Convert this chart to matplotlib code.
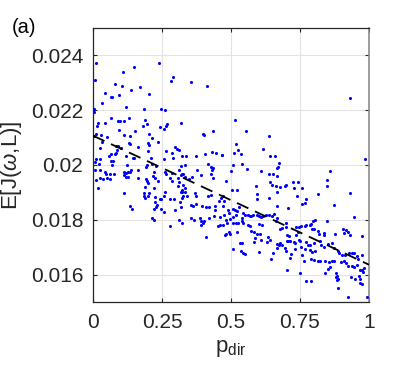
import matplotlib
matplotlib.use("Agg")
import matplotlib.pyplot as plt

plt.rcParams['font.family'] = ['Liberation Sans', 'DejaVu Sans']
plt.rcParams['mathtext.fontset'] = 'custom'
plt.rcParams['mathtext.rm'] = 'Liberation Sans'
plt.rcParams['mathtext.it'] = 'Liberation Sans:italic'

# ---- data ----
p_dir = [
    0.010, 0.149, 0.239, 0.007, 0.110, 0.289, 0.282, 0.081, 0.105, 0.169,
    0.138, 0.045, 0.095, 0.203, 0.065, 0.070, 0.033, 0.121, 0.005, 0.005,
    0.185, 0.246, 0.262, 0.064, 0.132, 0.089, 0.097, 0.111, 0.017, 0.045,
    0.188, 0.195, 0.181, 0.320, 0.269, 0.264, 0.243, 0.256, 0.013, 0.093,
    0.152, 0.012, 0.028, 0.052, 0.113, 0.134, 0.202, 0.214, 0.004, 0.033,
    0.130, 0.135, 0.200, 0.203, 0.234, 0.025, 0.083, 0.089, 0.103, 0.163,
    0.087, 0.199, 0.266, 0.285, 0.297, 0.304, 0.313, 0.066, 0.079, 0.082,
    0.057, 0.120, 0.012, 0.025, 0.144, 0.149, 0.209, 0.257, 0.289, 0.321,
    0.355, 0.413, 0.516, 0.397, 0.403, 0.436, 0.555, 0.638, 0.518, 0.524,
    0.616, 0.407, 0.430, 0.446, 0.466, 0.511, 0.537, 0.930, 0.986,
    0.065, 0.072, 0.007, 0.022, 0.068, 0.124, 0.196, 0.193, 0.213, 0.229,
    0.007, 0.026, 0.042, 0.048, 0.061, 0.077, 0.111, 0.120, 0.127, 0.138,
    0.135, 0.163, 0.113, 0.121, 0.128, 0.220, 0.261, 0.266, 0.217, 0.224,
    0.287, 0.312, 0.322, 0.024, 0.035, 0.051, 0.061, 0.010, 0.163, 0.191,
    0.196, 0.198, 0.234, 0.280, 0.287, 0.308, 0.312, 0.017, 0.188, 0.220,
    0.309, 0.326, 0.324, 0.113, 0.184, 0.186, 0.189, 0.198, 0.203, 0.226,
    0.244, 0.246, 0.261, 0.256, 0.280, 0.295, 0.319, 0.321, 0.226, 0.232,
    0.227, 0.220, 0.133, 0.140, 0.246, 0.256, 0.297, 0.316, 0.319, 0.215,
    0.220, 0.312, 0.321, 0.278,
    0.337, 0.332, 0.319, 0.373, 0.417, 0.429, 0.432, 0.436, 0.467, 0.508,
    0.501, 0.540, 0.557, 0.610, 0.637, 0.653, 0.668, 0.673, 0.668, 0.641,
    0.661, 0.378, 0.392, 0.429, 0.434, 0.318, 0.327, 0.332, 0.359, 0.349,
    0.483, 0.591, 0.593, 0.595, 0.641, 0.649, 0.663, 0.666, 0.637, 0.504,
    0.521, 0.334, 0.322, 0.327, 0.339, 0.334, 0.371, 0.373, 0.373, 0.417,
    0.426, 0.465, 0.472, 0.458, 0.475, 0.354, 0.363, 0.395, 0.409, 0.419,
    0.443, 0.441, 0.470, 0.489, 0.492, 0.508, 0.516, 0.518, 0.523, 0.530,
    0.542, 0.540, 0.550, 0.562, 0.569, 0.574, 0.581, 0.595, 0.603, 0.610,
    0.617, 0.627, 0.639, 0.649, 0.656, 0.668, 0.356, 0.366, 0.388, 0.421,
    0.392, 0.397, 0.402, 0.392, 0.438, 0.460, 0.475, 0.482, 0.487, 0.496,
    0.506, 0.453, 0.460, 0.470, 0.508, 0.518, 0.525, 0.540, 0.542, 0.562,
    0.569, 0.600, 0.612, 0.409, 0.482, 0.494, 0.496, 0.479, 0.523, 0.571,
    0.583, 0.593, 0.588, 0.583, 0.610, 0.605, 0.634, 0.632, 0.641, 0.666,
    0.673, 0.508, 0.533, 0.540, 0.535, 0.545, 0.552, 0.603, 0.666, 0.653,
    0.644,
    0.671, 0.860, 0.848, 0.848, 0.725, 0.742, 0.700, 0.696, 0.676, 0.729,
    0.756, 0.814, 0.932, 0.739, 0.773, 0.768, 0.756, 0.667, 0.708, 0.874,
    0.945, 0.662, 0.700, 0.848, 0.804, 0.797, 0.790, 0.773, 0.785, 0.768,
    0.746, 0.754, 0.737, 0.676, 0.686, 0.698, 0.906, 0.916, 0.911, 0.923,
    0.792, 0.800, 0.814, 0.819, 0.836, 0.838, 0.877, 0.932, 0.976, 0.703,
    0.710, 0.737, 0.744, 0.679, 0.684, 0.703, 0.708, 0.715, 0.727, 0.732,
    0.746, 0.751, 0.771, 0.778, 0.787, 0.802, 0.821, 0.826, 0.838, 0.850,
    0.865, 0.874, 0.887, 0.891, 0.901, 0.913, 0.928, 0.937, 0.947, 0.957,
    0.959, 0.976, 0.696, 0.700, 0.717, 0.715, 0.732, 0.754, 0.756, 0.768,
    0.785, 0.792, 0.804, 0.763, 0.790, 0.800, 0.816, 0.824, 0.841, 0.855,
    0.867, 0.874, 0.899, 0.908, 0.918, 0.925, 0.937, 0.945, 0.957, 0.966,
    0.976, 0.978, 0.983, 0.703, 0.751, 0.841, 0.860, 0.853, 0.882, 0.884,
    0.879, 0.889, 0.884, 0.935, 0.950, 0.964, 0.968, 0.966, 0.974, 0.773,
    0.790, 0.889, 0.923, 0.993,
]

E_J = [
    0.02373, 0.02357, 0.02373, 0.02309, 0.02339, 0.02320, 0.02307, 0.02296, 0.02287, 0.02283,
    0.02272, 0.02262, 0.02257, 0.02259, 0.02247, 0.02247, 0.02225, 0.02212, 0.02206, 0.02192,
    0.02203, 0.02205, 0.02200, 0.02170, 0.02170, 0.02160, 0.02159, 0.02160, 0.02155, 0.02155,
    0.02163, 0.02148, 0.02144, 0.02152, 0.02148, 0.02142, 0.02138, 0.02133, 0.02141, 0.02128,
    0.02123, 0.02114, 0.02108, 0.02101, 0.02109, 0.02107, 0.02114, 0.02099, 0.02105, 0.02083,
    0.02081, 0.02076, 0.02079, 0.02073, 0.02084, 0.02062, 0.02069, 0.02069, 0.02063, 0.02064,
    0.02055, 0.02050, 0.02051, 0.02044, 0.02064, 0.02058, 0.02053, 0.02041, 0.02041, 0.02044,
    0.02032, 0.02033, 0.02022, 0.02022, 0.02024, 0.02027, 0.02027, 0.02022, 0.02024, 0.02032,
    0.02303, 0.02288, 0.02164, 0.02113, 0.02108, 0.02123, 0.02125, 0.02107, 0.02075, 0.02056,
    0.02058, 0.02040, 0.02046, 0.02043, 0.02037, 0.02045, 0.02041, 0.02245, 0.02022,
    0.02015, 0.02015, 0.02010, 0.02003, 0.02000, 0.02000, 0.02000, 0.01993, 0.02003, 0.01995,
    0.01982, 0.01983, 0.01976, 0.01967, 0.01967, 0.01966, 0.01976, 0.01972, 0.01973, 0.01983,
    0.01973, 0.01983, 0.01964, 0.01956, 0.01956, 0.01976, 0.01976, 0.01968, 0.01961, 0.01952,
    0.01970, 0.01983, 0.01968, 0.01952, 0.01949, 0.01952, 0.01949, 0.01944, 0.01952, 0.01949,
    0.01942, 0.01935, 0.01942, 0.01954, 0.01942, 0.01952, 0.01939, 0.01917, 0.01920, 0.01916,
    0.01925, 0.01927, 0.01910, 0.01898, 0.01898, 0.01888, 0.01881, 0.01888, 0.01896, 0.01883,
    0.01876, 0.01876, 0.01901, 0.01888, 0.01876, 0.01876, 0.01901, 0.01879, 0.01864, 0.01855,
    0.01845, 0.01840, 0.01851, 0.01841, 0.01840, 0.01828, 0.01837, 0.01864, 0.01845, 0.01806,
    0.01801, 0.01799, 0.01787, 0.01779,
    0.02034, 0.02000, 0.01996, 0.02032, 0.02003, 0.01993, 0.01983, 0.01988, 0.02036, 0.02000,
    0.01978, 0.02003, 0.01985, 0.01978, 0.01968, 0.01968, 0.01988, 0.02007, 0.01959, 0.02034,
    0.02032, 0.01981, 0.01964, 0.01968, 0.01954, 0.01964, 0.01968, 0.01956, 0.01956, 0.01948,
    0.01943, 0.01923, 0.01893, 0.01876, 0.01939, 0.01927, 0.01925, 0.01901, 0.01881, 0.01908,
    0.01908, 0.01915, 0.01903, 0.01888, 0.01888, 0.01901, 0.01898, 0.01886, 0.01859, 0.01888,
    0.01891, 0.01881, 0.01888, 0.01869, 0.01867, 0.01855, 0.01850, 0.01850, 0.01847, 0.01847,
    0.01852, 0.01835, 0.01850, 0.01835, 0.01823, 0.01840, 0.01835, 0.01818, 0.01833, 0.01845,
    0.01823, 0.01806, 0.01816, 0.01818, 0.01813, 0.01813, 0.01816, 0.01818, 0.01813, 0.01811,
    0.01813, 0.01818, 0.01816, 0.01813, 0.01821, 0.01806, 0.01806, 0.01799, 0.01808, 0.01806,
    0.01794, 0.01789, 0.01794, 0.01782, 0.01813, 0.01811, 0.01816, 0.01799, 0.01789, 0.01804,
    0.01811, 0.01779, 0.01782, 0.01782, 0.01789, 0.01789, 0.01787, 0.01794, 0.01787, 0.01782,
    0.01779, 0.01784, 0.01782, 0.01738, 0.01748, 0.01755, 0.01748, 0.01745, 0.01755, 0.01760,
    0.01755, 0.01748, 0.01733, 0.01719, 0.01728, 0.01748, 0.01738, 0.01719, 0.01726, 0.01712,
    0.01709, 0.01692, 0.01714, 0.01714, 0.01685, 0.01677, 0.01675, 0.01683, 0.01697, 0.01677,
    0.01658,
    0.01993, 0.01978, 0.01944, 0.01923, 0.01939, 0.01939, 0.01927, 0.01923, 0.01920, 0.01915,
    0.01917, 0.01893, 0.01898, 0.01888, 0.01876, 0.01862, 0.01857, 0.01850, 0.01843, 0.01855,
    0.01811, 0.01794, 0.01789, 0.01794, 0.01801, 0.01794, 0.01784, 0.01782, 0.01782, 0.01779,
    0.01775, 0.01779, 0.01772, 0.01765, 0.01770, 0.01772, 0.01765, 0.01763, 0.01750, 0.01755,
    0.01765, 0.01767, 0.01760, 0.01748, 0.01753, 0.01743, 0.01748, 0.01745, 0.01741, 0.01745,
    0.01741, 0.01745, 0.01755, 0.01714, 0.01707, 0.01721, 0.01724, 0.01724, 0.01719, 0.01716,
    0.01728, 0.01721, 0.01719, 0.01709, 0.01709, 0.01716, 0.01721, 0.01709, 0.01702, 0.01712,
    0.01714, 0.01697, 0.01685, 0.01677, 0.01673, 0.01673, 0.01677, 0.01677, 0.01680, 0.01668,
    0.01658, 0.01673, 0.01697, 0.01685, 0.01675, 0.01661, 0.01692, 0.01702, 0.01673, 0.01695,
    0.01690, 0.01683, 0.01685, 0.01648, 0.01656, 0.01653, 0.01648, 0.01651, 0.01648, 0.01646,
    0.01651, 0.01648, 0.01646, 0.01651, 0.01641, 0.01632, 0.01632, 0.01627, 0.01634, 0.01617,
    0.01617, 0.01610, 0.01624, 0.01615, 0.01607, 0.01607, 0.01629, 0.01622, 0.01605, 0.01595,
    0.01590, 0.01585, 0.01581, 0.01590, 0.01585, 0.01595, 0.01583, 0.01571, 0.01564, 0.01576,
    0.01576, 0.01552, 0.01517, 0.01520,
]

fit_x = [0.0, 1.0]
fit_y = [0.02107, 0.01636]

x_ticks = [0, 0.25, 0.5, 0.75, 1]
x_ticklabels = ['0', '0.25', '0.5', '0.75', '1']
y_ticks = [0.016, 0.018, 0.020, 0.022, 0.024]
y_ticklabels = ['0.016', '0.018', '0.02', '0.022', '0.024']

# ---- figure ----
fig = plt.figure(figsize=(4.07, 3.78), dpi=100)
ax = fig.add_axes([0.2285, 0.2011, 0.6781, 0.7249])

ax.scatter(p_dir, E_J, s=5, color='#0000ff', linewidths=0, zorder=3)
ax.plot(fit_x, fit_y, color='black', lw=1.3, dashes=(7, 4), zorder=4)

ax.set_xlim(0, 1)
ax.set_ylim(0.015, 0.025)
ax.set_xticks(x_ticks)
ax.set_xticklabels(x_ticklabels)
ax.set_yticks(y_ticks)
ax.set_yticklabels(y_ticklabels)

ax.grid(True, color='#e3e3e3', lw=0.8, zorder=0)
ax.set_axisbelow(True)

ax.tick_params(direction='in', length=3, width=0.8, colors='#262626',
               labelsize=15, top=True, right=True)
ax.tick_params(axis='x', pad=8)
ax.tick_params(axis='y', pad=7)

for side in ['left', 'bottom', 'top']:
    ax.spines[side].set_color('#262626')
    ax.spines[side].set_linewidth(0.9)
ax.spines['right'].set_color('#8c8c8c')
ax.spines['right'].set_linewidth(1.2)

ax.set_xlabel(r'p$_{\mathrm{dir}}$', fontsize=16, color='#262626', labelpad=4)
ax.set_ylabel(r'E[J($\omega$,L)]', fontsize=16, color='#262626', labelpad=5)

fig.text(12 / 407, 1 - 33 / 378, '(a)', fontsize=14.5, va='baseline', ha='left')

fig.savefig('out.png', dpi=100)
